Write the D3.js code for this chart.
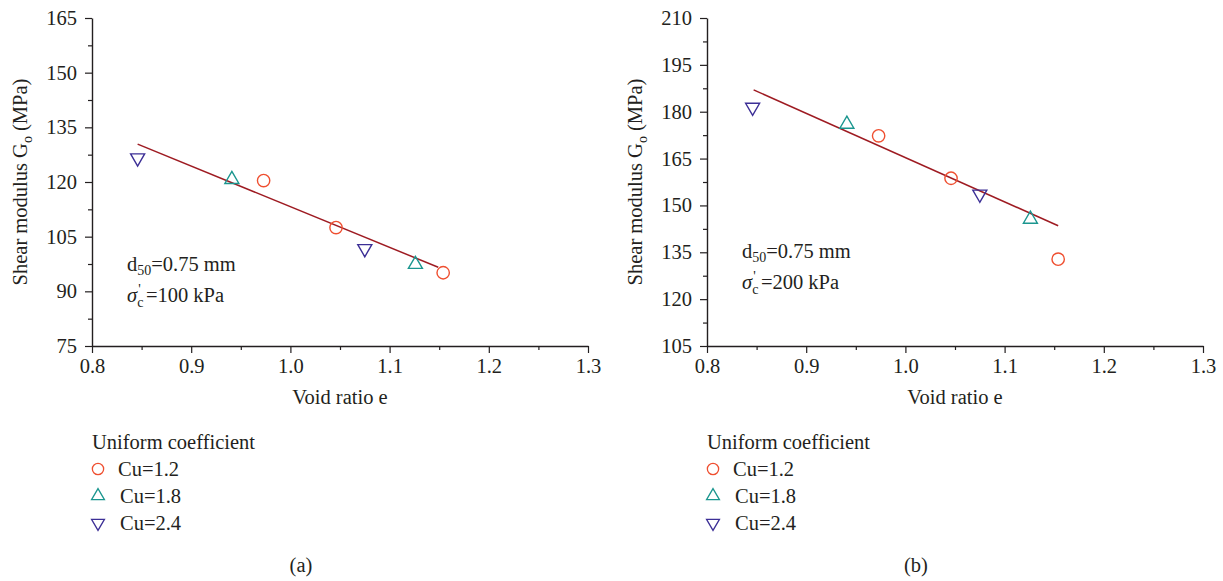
<!DOCTYPE html>
<html>
<head>
<meta charset="utf-8">
<script src="https://cdn.jsdelivr.net/npm/d3@7/dist/d3.min.js"></script>
<style>
  html, body { margin: 0; padding: 0; background: #fff; }
  svg text { font-family: "Liberation Serif", "Times New Roman", serif; fill: #231f20; }
</style>
</head>
<body>
<svg id="chart" width="1223" height="581"></svg>
<script>
// Void ratio e for each specimen, grouped by uniform coefficient Cu
const seriesNames = ["Cu=1.2", "Cu=1.8", "Cu=2.4"];
const voidCu12 = [0.973, 1.046, 1.154];
const voidCu18 = [0.941, 1.126];
const voidCu24 = [0.846, 1.075];

// Shear modulus G0 (MPa) at sigma'c = 100 kPa
const g100Cu12 = [120.4, 107.5, 95.1];
const g100Cu18 = [120.7, 97.4];
const g100Cu24 = [126.6, 101.7];
// Fitted trend at 100 kPa (e, G0)
const fit100E = [0.846, 1.149];
const fit100G = [130.4, 96.6];

// Shear modulus G0 (MPa) at sigma'c = 200 kPa
const g200Cu12 = [172.3, 158.7, 132.8];
const g200Cu18 = [176.0, 145.6];
const g200Cu24 = [181.4, 153.6];
// Fitted trend at 200 kPa (e, G0)
const fit200E = [0.847, 1.154];
const fit200G = [187.0, 143.5];

// Axis ticks
const xTicks = [0.8, 0.9, 1.0, 1.1, 1.2, 1.3];
const yTicksA = [75, 90, 105, 120, 135, 150, 165];
const yTicksB = [105, 120, 135, 150, 165, 180, 195, 210];

const colors = ["#ef4f30", "#1b968f", "#3c2f96"];
const fitColor = "#9e1b22";
const axisColor = "#231f20";
const FS = 20.5;

const svg = d3.select("#chart");

function panel(cfg) {
  const g = svg.append("g");
  const x = d3.scaleLinear().domain([0.8, 1.3]).range([cfg.left, cfg.left + 496]);
  const y = d3.scaleLinear().domain([cfg.yTicks[0], cfg.yTicks[cfg.yTicks.length - 1]]).range([346, 18]);

  // minor ticks
  const xMinor = d3.range(0.85, 1.3, 0.1);
  const yMinor = cfg.yTicks.slice(0, -1).map(v => v + 7.5);

  const xAxis = d3.axisBottom(x).tickValues(xTicks).tickFormat(d3.format(".1f")).tickSizeOuter(0).tickSizeInner(7).tickPadding(5);
  const yAxis = d3.axisLeft(y).tickValues(cfg.yTicks).tickFormat(d3.format("d")).tickSizeOuter(0).tickSizeInner(7).tickPadding(8);

  const gx = g.append("g").attr("transform", "translate(0,346)").call(xAxis);
  gx.append("g").call(d3.axisBottom(x).tickValues(xMinor).tickFormat("").tickSizeOuter(0).tickSize(4))
    .select(".domain").remove();
  const gy = g.append("g").attr("transform", `translate(${cfg.left},0)`).call(yAxis);
  gy.append("g").call(d3.axisLeft(y).tickValues(yMinor).tickFormat("").tickSizeOuter(0).tickSize(4))
    .select(".domain").remove();

  [gx, gy].forEach(a => {
    a.selectAll("path.domain").attr("stroke", axisColor).attr("stroke-width", 1.4);
    a.selectAll("line").attr("stroke", axisColor).attr("stroke-width", 1.2);
    a.selectAll("text").attr("font-size", FS).attr("fill", axisColor)
      .style("font-family", '"Liberation Serif", serif');
  });

  // axis titles
  g.append("text").attr("x", cfg.left + 248).attr("y", 404).attr("text-anchor", "middle")
    .attr("font-size", FS).text("Void ratio e");
  const yl = g.append("text")
    .attr("transform", `translate(${cfg.left - 65},182) rotate(-90)`)
    .attr("text-anchor", "middle").attr("font-size", FS);
  yl.append("tspan").text("Shear modulus G");
  yl.append("tspan").attr("font-size", 14).attr("dy", 5).text("o");
  yl.append("tspan").attr("dy", -5).text(" (MPa)");

  // fit line
  const fitPts = cfg.fitE.map((e, i) => [e, cfg.fitG[i]]);
  g.append("path").datum(fitPts)
    .attr("d", d3.line().x(d => x(d[0])).y(d => y(d[1])))
    .attr("fill", "none").attr("stroke", fitColor).attr("stroke-width", 1.5);

  // markers
  const symbols = [d3.symbolCircle, d3.symbolTriangle, d3.symbolTriangle];
  const sizes = [120, 85, 85];
  cfg.series.forEach((s, k) => {
    g.selectAll(null).data(s.e.map((e, i) => [e, s.g[i]])).enter().append("path")
      .attr("d", d3.symbol().type(symbols[k]).size(sizes[k]))
      .attr("transform", d => `translate(${x(d[0])},${y(d[1])})${k === 2 ? " rotate(180)" : ""}`)
      .attr("fill", "none").attr("stroke", colors[k]).attr("stroke-width", 1.4);
  });

  // annotation
  const a1 = g.append("text").attr("x", cfg.left + 35).attr("y", cfg.annY).attr("font-size", FS);
  a1.append("tspan").text("d");
  a1.append("tspan").attr("font-size", 14).attr("dy", 4).text("50");
  a1.append("tspan").attr("dy", -4).text("=0.75 mm");
  const a2 = g.append("text").attr("x", cfg.left + 35).attr("y", cfg.annY + 31).attr("font-size", FS);
  a2.append("tspan").attr("font-style", "italic").text("σ");
  a2.append("tspan").attr("font-size", 14).attr("dy", 5).text("c");
  a2.append("tspan").attr("font-size", 14).attr("dy", -13).attr("dx", -5).text("'");
  a2.append("tspan").attr("dy", 8).attr("dx", 5).text("=" + cfg.stress + " kPa");

  // legend
  const lg = g.append("g");
  lg.append("text").attr("x", cfg.left).attr("y", 449).attr("font-size", FS).text("Uniform coefficient");
  seriesNames.forEach((name, k) => {
    const cy = 469 + k * 27;
    lg.append("path")
      .attr("d", d3.symbol().type(symbols[k]).size(k === 0 ? 100 : 72))
      .attr("transform", `translate(${cfg.left + 6},${cy})${k === 2 ? " rotate(180)" : ""}`)
      .attr("fill", "none").attr("stroke", colors[k]).attr("stroke-width", 1.3);
    lg.append("text").attr("x", cfg.left + (k === 0 ? 26 : 28)).attr("y", cy + 7)
      .attr("font-size", FS).text(name);
  });

  g.append("text").attr("x", cfg.left + 209).attr("y", 572).attr("text-anchor", "middle")
    .attr("font-size", FS).text(cfg.tag);
}

panel({
  left: 92, yTicks: yTicksA, fitE: fit100E, fitG: fit100G,
  series: [{ e: voidCu12, g: g100Cu12 }, { e: voidCu18, g: g100Cu18 }, { e: voidCu24, g: g100Cu24 }],
  annY: 271, stress: 100, tag: "(a)"
});
panel({
  left: 707, yTicks: yTicksB, fitE: fit200E, fitG: fit200G,
  series: [{ e: voidCu12, g: g200Cu12 }, { e: voidCu18, g: g200Cu18 }, { e: voidCu24, g: g200Cu24 }],
  annY: 258, stress: 200, tag: "(b)"
});
</script>
</body>
</html>
